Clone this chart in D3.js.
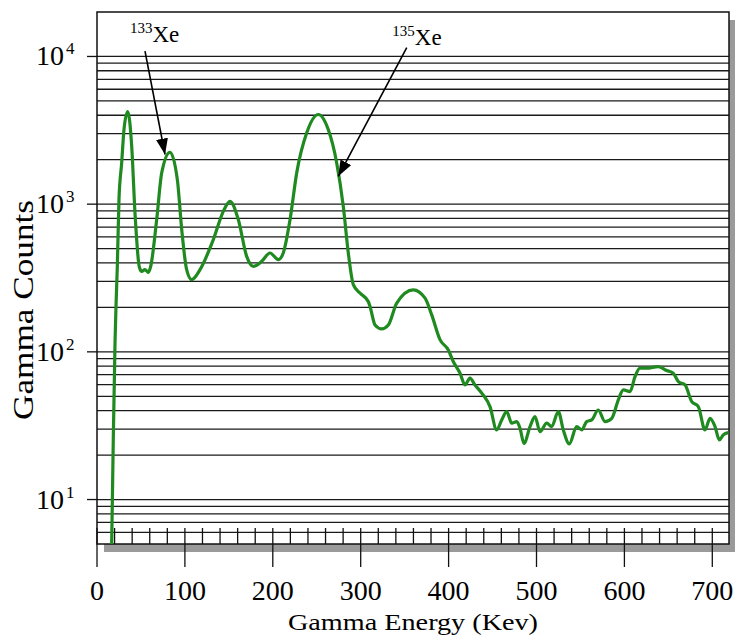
<!DOCTYPE html>
<html>
<head>
<meta charset="utf-8">
<script src="https://cdn.jsdelivr.net/npm/d3@7"></script>
<style>
  html, body { margin: 0; padding: 0; background: #fff; }
  #chart { width: 735px; height: 636px; }
  #chart text { font-family: "Liberation Serif", Tinos, "Times New Roman", Times, serif; }
</style>
</head>
<body>
<div id="chart"></div>
<script>
// Gamma spectrum (log counts vs energy)
const energy = [16.7, 18.5, 20.5, 21.6, 23.1, 25.0, 28.1, 30.7, 34.9, 39.5, 43.2, 48.1, 50.9, 54.6, 58.4, 61.1,
  67.9, 73.6, 83.0, 91.4, 96.4, 102.0, 107.7, 117.2, 132.3, 143.7, 151.3, 160.8, 170.3, 177.8, 187.4, 196.8,
  206.3, 211.9, 219.6, 227.2, 238.6, 251.8, 263.1, 272.7, 280.2, 285.9, 291.6, 299.2, 308.6, 310.6, 316.3,
  323.9, 331.4, 341.0, 359.8, 373.2, 380.8, 390.2, 399.7, 405.3, 413.0, 418.7, 424.3, 430.0, 437.7, 447.1,
  454.7, 460.4, 466.1, 471.8, 477.5, 481.2, 485.8, 492.6, 498.3, 504.0, 511.6, 517.3, 524.8, 530.5, 537.3,
  545.7, 551.4, 557.1, 562.8, 570.3, 577.9, 585.6, 593.1, 598.8, 606.4, 612.1, 617.7, 625.4, 638.6, 648.1,
  655.6, 661.4, 669.0, 676.6, 684.1, 691.7, 697.4, 703.1, 708.0, 712.5, 718.2];
const counts = [5, 25, 115, 202, 377, 1073, 1911, 3199, 4238, 2453, 876, 377, 350, 360, 345, 379,
  785, 1628, 2245, 1466, 672, 360, 308, 360, 575, 894, 1045, 785, 443, 379, 410, 467,
  421, 467, 785, 1628, 3040, 4045, 3199, 1902, 966, 467, 285, 250, 219, 203, 152,
  143, 152, 214, 263, 231, 178, 121, 103, 86, 71.7, 59.7, 66.3, 59.7, 52.5, 42.6,
  29.6, 34.6, 39.4, 32.9, 33.7, 30.4, 24.0, 31.2, 36.4, 28.8, 32.9, 31.2, 39.4, 29.6, 23.8,
  31.2, 29.6, 33.7, 34.6, 40.4, 33.7, 35.5, 47.3, 55.2, 53.8, 68, 77.5, 77.5, 79.5, 74.7,
  71.7, 62.9, 59.7, 46.0, 42.6, 29.6, 35.5, 31.2, 25.3, 27.4, 28.4];

const xTicks = [0, 100, 200, 300, 400, 500, 600, 700];
const yTicks = [10, 100, 1000, 10000];
const yTickExp = ["1", "2", "3", "4"];

// annotations: label anchor and arrow (start -> tip), in data units
const annLabels = [
  { iso: "133", el: "Xe", e: 37.5, c: 12500 },
  { iso: "135", el: "Xe", e: 336, c: 11880 }
];
const annArrows = [
  { e0: 54.6, c0: 10860, e1: 77.4, c1: 2168 },
  { e0: 352.4, c0: 11460, e1: 274.5, c1: 1542 }
];

const data = energy.map((e, i) => ({ e, c: counts[i] }));

const W = 735, H = 636;
const M = { l: 97, r: 729, t: 12, b: 544 };

const svg = d3.select('#chart').append('svg')
  .attr('width', W).attr('height', H);

const x = d3.scaleLinear().domain([0, 719]).range([M.l, M.r]);
const y = d3.scaleLog().domain([5, 20000]).range([M.b, M.t]);

// drop shadow + plot area
svg.append('rect')
  .attr('x', M.l + 7).attr('y', M.t + 8)
  .attr('width', M.r - M.l).attr('height', M.b - M.t)
  .attr('fill', '#9a9a9a');
svg.append('rect')
  .attr('x', M.l).attr('y', M.t)
  .attr('width', M.r - M.l).attr('height', M.b - M.t)
  .attr('fill', '#fff');

// horizontal grid at every log minor step
const gridVals = [];
[1, 10, 100, 1000].forEach(dec => {
  for (let k = 1; k <= 9; k++) {
    const v = k * dec;
    if (v > 5 && v < 20000) gridVals.push(v);
  }
});
gridVals.push(10000);
svg.append('g')
  .selectAll('line')
  .data(gridVals)
  .enter().append('line')
  .attr('x1', M.l).attr('x2', M.r)
  .attr('y1', d => y(d)).attr('y2', d => y(d))
  .attr('stroke', '#1a1a1a')
  .attr('stroke-width', 1.3);

// y major ticks + labels
const yAxis = svg.append('g');
yAxis.selectAll('line')
  .data(yTicks)
  .enter().append('line')
  .attr('x1', M.l - 10).attr('x2', M.l)
  .attr('y1', d => y(d)).attr('y2', d => y(d))
  .attr('stroke', '#111').attr('stroke-width', 1.3);

yTicks.forEach((v, i) => {
  const t = yAxis.append('text')
    .attr('x', 36)
    .attr('y', y(v) + 9)
    .attr('font-size', 28)
    .attr('fill', '#000');
  t.append('tspan').text('10');
  t.append('tspan')
    .attr('dx', 2).attr('dy', -11)
    .attr('font-size', 17)
    .text(yTickExp[i]);
});

// x ticks: minor every 20 inside, major every 100 crossing the axis
const minor = d3.range(20, 720, 20).filter(d => d % 100 !== 0);
svg.append('g')
  .selectAll('line')
  .data(minor)
  .enter().append('line')
  .attr('x1', d => x(d)).attr('x2', d => x(d))
  .attr('y1', M.b - 16).attr('y2', M.b)
  .attr('stroke', '#111').attr('stroke-width', 1.3);

svg.append('g')
  .selectAll('line')
  .data(xTicks)
  .enter().append('line')
  .attr('x1', d => x(d)).attr('x2', d => x(d))
  .attr('y1', M.b - 16).attr('y2', M.b + 23)
  .attr('stroke', '#111').attr('stroke-width', 1.3);

svg.append('g')
  .selectAll('text')
  .data(xTicks)
  .enter().append('text')
  .attr('x', d => x(d))
  .attr('y', 600)
  .attr('text-anchor', 'middle')
  .attr('font-size', 28)
  .attr('fill', '#000')
  .text(d => d);

// frame
svg.append('rect')
  .attr('x', M.l).attr('y', M.t)
  .attr('width', M.r - M.l).attr('height', M.b - M.t)
  .attr('fill', 'none')
  .attr('stroke', '#111')
  .attr('stroke-width', 1.5);

// spectrum line
const line = d3.line()
  .x(d => x(d.e))
  .y(d => y(d.c))
  .curve(d3.curveMonotoneX);

svg.append('path')
  .datum(data)
  .attr('d', line)
  .attr('fill', 'none')
  .attr('stroke', '#1f8a1f')
  .attr('stroke-width', 3.2)
  .attr('stroke-linejoin', 'round');

// annotations
svg.append('defs').append('marker')
  .attr('id', 'arrow')
  .attr('markerUnits', 'userSpaceOnUse')
  .attr('markerWidth', 16).attr('markerHeight', 12)
  .attr('refX', 16).attr('refY', 6)
  .attr('orient', 'auto')
  .append('path')
  .attr('d', 'M0,0 L16,6 L0,12 Z')
  .attr('fill', '#000');

svg.append('g')
  .selectAll('line')
  .data(annArrows)
  .enter().append('line')
  .attr('x1', d => x(d.e0)).attr('y1', d => y(d.c0))
  .attr('x2', d => x(d.e1)).attr('y2', d => y(d.c1))
  .attr('stroke', '#000')
  .attr('stroke-width', 1.6)
  .attr('marker-end', 'url(#arrow)');

annLabels.forEach(a => {
  const t = svg.append('text')
    .attr('x', x(a.e))
    .attr('y', y(a.c))
    .attr('font-size', 23)
    .attr('fill', '#000');
  t.append('tspan')
    .attr('font-size', 15)
    .attr('dy', -9)
    .text(a.iso);
  t.append('tspan')
    .attr('dy', 9)
    .text(a.el);
});

// axis titles
svg.append('text')
  .attr('x', (M.l + M.r) / 2)
  .attr('y', 630)
  .attr('text-anchor', 'middle')
  .attr('font-size', 24)
  .attr('textLength', 250)
  .attr('lengthAdjust', 'spacingAndGlyphs')
  .attr('fill', '#000')
  .text('Gamma Energy (Kev)');

svg.append('text')
  .attr('transform', 'translate(33,310) rotate(-90)')
  .attr('text-anchor', 'middle')
  .attr('font-size', 29)
  .attr('textLength', 220)
  .attr('lengthAdjust', 'spacingAndGlyphs')
  .attr('fill', '#000')
  .text('Gamma Counts');
</script>
</body>
</html>
